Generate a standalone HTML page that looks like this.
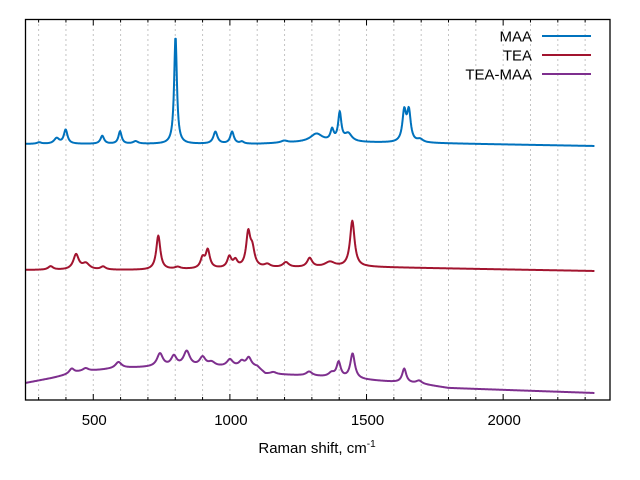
<!DOCTYPE html>
<html><head><meta charset="utf-8"><style>
body{margin:0;background:#fff;}
svg{display:block;font-family:"Liberation Sans",sans-serif;}
</style></head><body>
<svg id="chart" width="640" height="480">
<g id="grid"></g>
<g id="series"></g>
<rect x="25.5" y="19.5" width="584.5" height="380.5" fill="none" stroke="#000" stroke-width="1.3"/>
<g id="ticks"></g>
<text x="317" y="453" text-anchor="middle" font-size="15">Raman shift, cm<tspan dy="-6" font-size="10">-1</tspan></text>
<g id="legend"></g>
</svg>
<script>
const xTicks=[500,1000,1500,2000];
const minorTicks=[300,400,500,600,700,800,900,1000,1100,1200,1300,1400,1500,1600,1700,1800,1900,2000,2100,2200,2300];
const seriesNames=["MAA","TEA","TEA-MAA"];
const seriesColors=["#0072bd","#a2142f","#7e2f8e"];
// MAA
const maaBaseX=[252,1100,1300,1700,2335];
const maaBaseY=[256,256,258,257,254];
const maaPeakX=[302,366,399,533,598,655,801,947,1008,1044,1199,1317,1374,1402,1433,1638,1655,1696];
const maaPeakH=[1.5,5.5,14,8,12.5,2.5,108,12,12,2,2,8,11,28,8,30,30,3];
const maaPeakW=[10,11,8,8,7,11,6,9,8,8,14,26,7,7,16,8,8,13];
// TEA
const teaBaseX=[252,700,1100,1500,2335];
const teaBaseY=[130,130,132,133,129];
const teaPeakX=[344,437,473,536,738,809,900,919,998,1020,1067,1082,1137,1205,1292,1366,1448];
const teaPeakH=[3.5,15,6,3,34,2,10,18,11,7,33,17,3,5,9,5,46];
const teaPeakW=[11,12,16,11,9,13,9,9,9,9,9,10,13,13,11,22,10];
// TEA-MAA
const tmBaseX=[252,350,450,600,750,1100,1130,1300,1400,1500,1700,1800,2335];
const tmBaseY=[17,22,28,32,33,33,26,24,22,20,16,12,7];
const tmPeakX=[421,472,592,744,795,842,900,933,1000,1043,1069,1159,1290,1372,1398,1449,1638,1692];
const tmPeakH=[5,3,6,13,10,15,9,4,7,5,9,2,4,4,15,25,14,3];
const tmPeakW=[11,13,13,13,12,14,13,15,13,11,11,13,13,13,9,10,9,12];

const X0=252,X1=2391,XEND=2335,PX0=25.5,PX1=610,PY0=400,PY1=19.5,YMAX=380.5;
function xs(v){return PX0+(v-X0)/(X1-X0)*(PX1-PX0);}
function ys(v){return PY0-(v/YMAX)*(PY0-PY1);}
const NS="http://www.w3.org/2000/svg";
function mk(t,a,p){const e=document.createElementNS(NS,t);for(const k in a)e.setAttribute(k,a[k]);p.appendChild(e);return e;}
function base(bx,by,x){for(let i=0;i<bx.length-1;i++){if(x<=bx[i+1]){const t=(x-bx[i])/(bx[i+1]-bx[i]);return by[i]+t*(by[i+1]-by[i]);}}return by[by.length-1];}
function val(bx,by,px,ph,pw,x){let v=base(bx,by,x);for(let i=0;i<px.length;i++){const g=pw[i],d=x-px[i];v+=ph[i]*g*g/(d*d+g*g);}return v;}

const grid=document.getElementById('grid'),ticks=document.getElementById('ticks');
minorTicks.forEach(t=>{
  const l=mk('line',{x1:xs(t),x2:xs(t),y1:PY1,y2:PY0,stroke:'#888','stroke-width':1,'stroke-dasharray':'1,4'},grid);
  
  
  const major=xTicks.includes(t);
  const len=major?6:3;
  const a=mk('line',{x1:xs(t),x2:xs(t),y1:PY0,y2:PY0-len,stroke:'#000','stroke-width':1},ticks);
  
  
  const b=mk('line',{x1:xs(t),x2:xs(t),y1:PY1,y2:PY1+len,stroke:'#000','stroke-width':1},ticks);
  
  
});
xTicks.forEach(t=>{
  const tx=mk('text',{x:xs(t)+1,y:425,'text-anchor':'middle','font-size':15},ticks);
  tx.textContent=t;
  
  
});
const sets=[[maaBaseX,maaBaseY,maaPeakX,maaPeakH,maaPeakW],[teaBaseX,teaBaseY,teaPeakX,teaPeakH,teaPeakW],[tmBaseX,tmBaseY,tmPeakX,tmPeakH,tmPeakW]];
const sg=document.getElementById('series');
sets.forEach((s,i)=>{
  let d='';
  for(let x=X0;x<=XEND;x+=2){const v=val(s[0],s[1],s[2],s[3],s[4],x);d+=(x===X0?'M':'L')+xs(x).toFixed(2)+','+ys(v).toFixed(2);}
  const p=mk('path',{d:d,fill:'none',stroke:seriesColors[i],'stroke-width':2,'stroke-linejoin':'round'},sg);
  
  
});
const lg=document.getElementById('legend');
const rowsY=[36,55,74];
seriesNames.forEach((n,i)=>{
  const t=mk('text',{x:532,y:rowsY[i]+5.5,'text-anchor':'end','font-size':15},lg);
  t.textContent=n;
  
  
  const l=mk('line',{x1:542,x2:591,y1:rowsY[i],y2:rowsY[i],stroke:seriesColors[i],'stroke-width':2},lg);
  
  
});
</script>
</body></html>
